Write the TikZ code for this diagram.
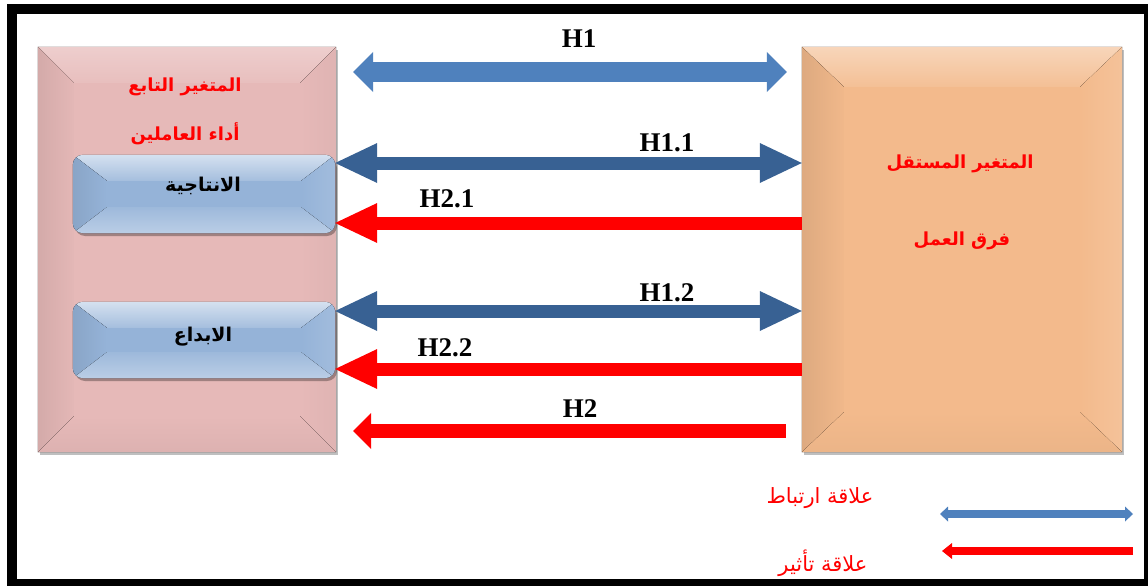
\documentclass[tikz,border=0pt]{standalone}
\usepackage{fontspec}
\setmainfont{Liberation Serif}
\newfontfamily\arabicfont[Script=Arabic]{DejaVu Sans}
\TeXXeTstate=1
\usetikzlibrary{arrows.meta,shadows,calc}

\definecolor{pinkface}{HTML}{E6B9B8}
\definecolor{orangeface}{HTML}{F3BA8C}
\definecolor{blueface}{HTML}{95B3D8}
\definecolor{corrblue}{HTML}{4F81BD}
\definecolor{darkcorr}{HTML}{386193}
\definecolor{effred}{HTML}{FF0000}

% four shaded bevel facets inside a rectangular node
% #1 node, #2 horizontal bevel, #3 vertical bevel, #4-#7 top/left/right/bottom fills
\newcommand\bevelfaces[7]{%
  \fill[#4] (#1.north west) -- (#1.north east) -- ($(#1.north east)+(-#2,#3)$) -- ($(#1.north west)+(#2,#3)$) -- cycle;
  \fill[#5] (#1.north west) -- ($(#1.north west)+(#2,#3)$) -- ($(#1.south west)+(#2,-#3)$) -- (#1.south west) -- cycle;
  \fill[#6] (#1.north east) -- ($(#1.north east)+(-#2,#3)$) -- ($(#1.south east)+(-#2,-#3)$) -- (#1.south east) -- cycle;
  \fill[#7] (#1.south west) -- ($(#1.south west)+(#2,-#3)$) -- ($(#1.south east)+(-#2,-#3)$) -- (#1.south east) -- cycle;
}

\tikzset{
  bigbox/.style={rectangle, inner sep=0pt, minimum width=#1, minimum height=405pt,
    drop shadow={shadow xshift=2pt, shadow yshift=-3pt, opacity=0.25, fill=black}},
  subbox/.style={rectangle, rounded corners=10pt, inner sep=0pt, minimum width=262pt, minimum height=#1,
    fill=blueface, drop shadow={shadow xshift=2pt, shadow yshift=-3pt, opacity=0.3, fill=black}},
  hlabel/.style={font=\bfseries\fontsize{27}{27}\selectfont, inner sep=0pt},
  arab/.style={font=\arabicfont\bfseries\fontsize{18}{22}\selectfont, text=effred, inner sep=0pt},
  arabblack/.style={font=\arabicfont\bfseries\fontsize{19}{22}\selectfont, text=black, inner sep=0pt},
  legendtext/.style={font=\arabicfont\fontsize{21}{24}\selectfont, text=effred, inner sep=0pt},
  corrlink/.style={draw=darkcorr, line width=13pt, {Triangle[length=42pt,width=40pt,line width=0pt]}-{Triangle[length=42pt,width=40pt,line width=0pt]}},
  efflink/.style={draw=effred, line width=13pt, -{Triangle[length=42pt,width=40pt,line width=0pt]}},
}

\begin{document}
\begin{tikzpicture}[x=1pt, y=-1pt]
  \useasboundingbox (0,0) rectangle (1148,586);
  \fill[white] (0,0) rectangle (1148,586);
  % outer frame
  \draw[line width=10pt] (11.5,9.5) rectangle (1149,584);

  % dependent variable box
  \node[bigbox=298pt, fill=pinkface] (L) at (187,249.5) {};
  \bevelfaces{L}{36}{36}
    {top color=pinkface!70!white, bottom color=pinkface!92!white}
    {left color=pinkface!92!black, right color=pinkface!99!black}
    {left color=pinkface, right color=pinkface!97!black}
    {top color=pinkface, bottom color=pinkface!96!black}

  % independent variable box
  \node[bigbox=320pt, fill=orangeface] (R) at (962,249.5) {};
  \bevelfaces{R}{42}{40}
    {top color=orangeface!60!white, bottom color=orangeface!92!white}
    {left color=orangeface!91!black, right color=orangeface!99!black}
    {left color=orangeface, right color=orangeface!88!white}
    {top color=orangeface, bottom color=orangeface!97!black}

  % sub-dimension boxes
  \node[subbox=78pt] (P1) at (204,194) {};
  \node[subbox=76pt] (P2) at (204,340) {};
  \foreach \p in {P1,P2}{
    \begin{scope}
      \clip[rounded corners=10pt] (\p.north west) rectangle (\p.south east);
      \bevelfaces{\p}{34}{26}
        {top color=blueface!40!white, bottom color=blueface!85!white}
        {left color=blueface!92!black, right color=blueface}
        {left color=blueface, right color=blueface!88!white}
        {top color=blueface!92!white, bottom color=blueface!65!white}
    \end{scope}
  }

  % box texts
  \node[arab] (t1) at (185,87) {\beginR المتغير التابع\endR};
  \node[arab] (t2) at (185,134) {\beginR أداء العاملين\endR};
  \node[arabblack] (t3) at (203,186) {\beginR الانتاجية\endR};
  \node[arabblack] (t4) at (203,337) {\beginR الابداع\endR};
  \node[arab] (t5) at (960,164) {\beginR المتغير المستقل\endR};
  \node[arab] (t6) at (962,241) {\beginR فرق العمل\endR};

  % row heights of the relations
  \coordinate (r1) at (0,72);
  \coordinate (r11) at (0,163);
  \coordinate (r21) at (0,223);
  \coordinate (r12) at (0,311);
  \coordinate (r22) at (0,369);
  \coordinate (r2) at (0,431);

  % main hypotheses
  \coordinate (h1a) at ($(L.east |- r1)+(17,0)$);
  \coordinate (h1b) at ($(R.west |- r1)+(-15,0)$);
  \draw[draw=corrblue, line width=20pt,
    {Triangle[length=20pt,width=40pt,line width=0pt]}-{Triangle[length=20pt,width=40pt,line width=0pt]}] (h1a) -- (h1b);
  \coordinate (h2a) at ($(R.west |- r2)+(-16,0)$);
  \coordinate (h2b) at ($(L.east |- r2)+(17,0)$);
  \draw[draw=effred, line width=14pt, -{Triangle[length=18pt,width=36pt,line width=0pt]}] (h2a) -- (h2b);

  % sub-hypotheses
  \draw[corrlink] (P1.east |- r11) -- (R.west |- r11);
  \draw[efflink] (R.west |- r21) -- (P1.east |- r21);
  \draw[corrlink] (P2.east |- r12) -- (R.west |- r12);
  \draw[efflink] (R.west |- r22) -- (P2.east |- r22);

  % hypothesis labels
  \node[hlabel] (lh1) at (579,39) {H1};
  \node[hlabel] (lh11) at (667,143) {H1.1};
  \node[hlabel] (lh21) at (447,199) {H2.1};
  \node[hlabel] (lh12) at (667,293) {H1.2};
  \node[hlabel] (lh22) at (445,348) {H2.2};
  \node[hlabel] (lh2) at (580,409) {H2};

  % legend
  \coordinate (lg1a) at (940,514);
  \coordinate (lg1b) at (1133,514);
  \coordinate (lg2a) at (1133,551);
  \coordinate (lg2b) at (942,551);
  \draw[draw=corrblue, line width=8pt,
    {Triangle[length=8pt,width=15pt,line width=0pt]}-{Triangle[length=8pt,width=15pt,line width=0pt]}] (lg1a) -- (lg1b);
  \draw[draw=effred, line width=8pt, -{Triangle[length=10pt,width=16pt,line width=0pt]}] (lg2a) -- (lg2b);
  \node[legendtext] (lt1) at (820,498) {\beginR علاقة ارتباط\endR};
  \node[legendtext] (lt2) at (823,563) {\beginR علاقة تأثير\endR};
\end{tikzpicture}
\end{document}
